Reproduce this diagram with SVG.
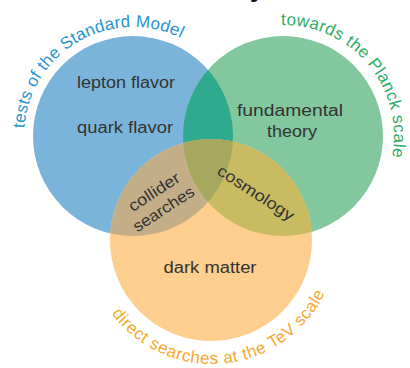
<svg xmlns="http://www.w3.org/2000/svg" width="410" height="368" viewBox="0 0 410 368">
<defs>
<style>
.lbl{font-family:"Liberation Sans",Arial,sans-serif;font-size:16px;fill:#333333}
.arc{font-family:"Liberation Sans",Arial,sans-serif;font-size:17px}
</style>
<clipPath id="cB"><circle cx="133" cy="136" r="100"/></clipPath>
<clipPath id="cG"><circle cx="283" cy="136" r="100"/></clipPath>
<path id="pB" d="M24.3,128.4 A109,109 0 0 1 187.5,41.6"/>
<path id="pG" d="M281.1,25 A111,111 0 0 1 390.2,164.7"/>
<path id="pO" d="M111.6,313.5 A125,125 0 0 0 329.5,281.8"/>
</defs>
<rect width="410" height="368" fill="#ffffff"/>
<text x="250" y="-3" font-family="Liberation Sans,Arial,sans-serif" font-weight="bold" font-size="26" fill="#111111">y</text>

<g id="circle-standard-model">
<circle cx="133" cy="136" r="100" fill="#7BB4DA"/>
<text class="arc" fill="#2B94CF"><textPath href="#pB" textLength="213">tests of the Standard Model</textPath></text>
</g>
<g id="circle-planck">
<circle cx="283" cy="136" r="100" fill="#82C79D"/>
<text class="arc" fill="#2CAE65"><textPath href="#pG" textLength="197">towards the Planck scale</textPath></text>
</g>
<g id="circle-tev">
<circle cx="211" cy="240" r="101" fill="#FDCE8D"/>
<text class="arc" fill="#F6A92F"><textPath href="#pO" textLength="257">direct searches at the TeV scale</textPath></text>
</g>

<g id="overlaps">
<circle cx="283" cy="136" r="100" fill="#2EAA8E" clip-path="url(#cB)"/>
<circle cx="211" cy="240" r="101" fill="#C4AE88" clip-path="url(#cB)"/>
<circle cx="211" cy="240" r="101" fill="#C8BB62" clip-path="url(#cG)"/>
<g clip-path="url(#cG)"><circle cx="211" cy="240" r="101" fill="#A6A85F" clip-path="url(#cB)"/></g>
</g>

<g id="labels">
<text class="lbl" x="126" y="88" text-anchor="middle" textLength="98" lengthAdjust="spacingAndGlyphs">lepton flavor</text>
<text class="lbl" x="125" y="133" text-anchor="middle" textLength="96" lengthAdjust="spacingAndGlyphs">quark flavor</text>
<text class="lbl" x="290" y="116" text-anchor="middle" textLength="106" lengthAdjust="spacingAndGlyphs">fundamental</text>
<text class="lbl" x="292" y="137" text-anchor="middle" textLength="50" lengthAdjust="spacingAndGlyphs">theory</text>
<text class="lbl" x="210" y="273" text-anchor="middle" textLength="93" lengthAdjust="spacingAndGlyphs">dark matter</text>
<text class="lbl" text-anchor="middle" transform="translate(157,196.5) rotate(-33)" textLength="58" lengthAdjust="spacingAndGlyphs">collider</text>
<text class="lbl" text-anchor="middle" transform="translate(166.5,213.5) rotate(-33)" textLength="70" lengthAdjust="spacingAndGlyphs">searches</text>
<text class="lbl" text-anchor="middle" transform="translate(253,197.5) rotate(33)" textLength="88" lengthAdjust="spacingAndGlyphs">cosmology</text>
</g>
</svg>
